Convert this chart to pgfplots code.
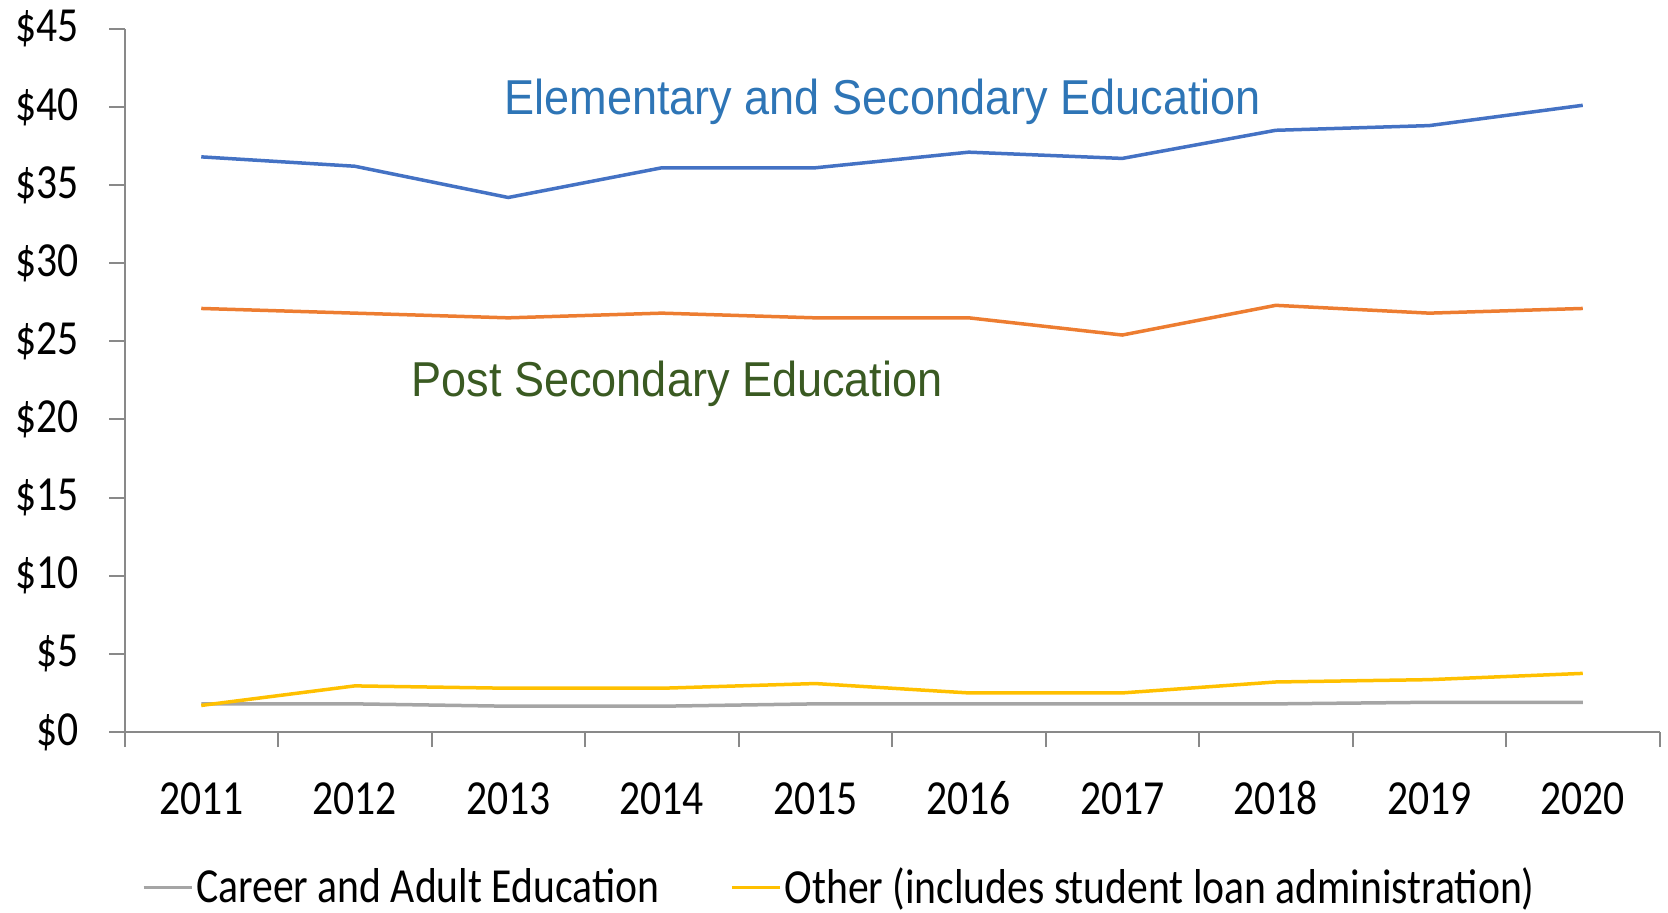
\documentclass[border=0pt]{standalone}
\usepackage{fontspec}
\setmainfont{Carlito}[FakeStretch=0.85]
\newfontfamily\arialfont{Liberation Sans}[FakeStretch=0.92]
\usepackage{pgfplots}
\pgfplotsset{compat=1.18}
\definecolor{cblue}{HTML}{4472C4}
\definecolor{corange}{HTML}{ED7D31}
\definecolor{cgray}{HTML}{A5A5A5}
\definecolor{cyellow}{HTML}{FFC000}
\definecolor{axisgray}{HTML}{898989}
\definecolor{textblue}{HTML}{2E75B6}
\definecolor{textgreen}{HTML}{3A5A22}
\begin{document}
\begin{tikzpicture}
\useasboundingbox (-62.25bp,-90.5bp) rectangle (771.75bp,366bp);
\begin{axis}[
  scale only axis, width=767.5bp, height=351.65bp,
  xmin=0.5, xmax=10.5, ymin=0, ymax=45,
  axis x line=bottom, axis y line=left,
  axis line style={-, draw=axisgray, line width=1bp},
  xtick={1,2,3,4,5,6,7,8,9,10},
  xticklabels={2011,2012,2013,2014,2015,2016,2017,2018,2019,2020},
  minor xtick={0.5,1.5,2.5,3.5,4.5,5.5,6.5,7.5,8.5,9.5,10.5},
  ytick={0,5,10,15,20,25,30,35,40,45},
  yticklabel={\$\pgfmathprintnumber{\tick}},
  tick align=outside, major tick length=7.5bp, minor tick length=7.5bp,
  every tick/.style={draw=axisgray, line width=1bp},
  major x tick style={draw=none},
  tick label style={font=\fontsize{24.5bp}{28bp}\selectfont},
  xticklabel style={text height=16bp, text depth=0bp, yshift=-14bp},
  yticklabel style={xshift=-12bp},
  /pgf/number format/assume math mode=true,
  legend style={at={(0.466,-0.221)}, anchor=center, draw=none, fill=none,
    legend columns=2, font=\fontsize{24.5bp}{28bp}\selectfont,
    /tikz/every even column/.append style={column sep=34bp},
    inner sep=0pt, nodes={inner sep=1.5bp}},
  legend image code/.code={\draw[#1, line width=1.75bp] (0bp,0bp) -- (24bp,0bp);},
  clip=false,
]
\addplot[cblue, line width=1.75bp, forget plot] coordinates {
 (1,36.8) (2,36.2) (3,34.2) (4,36.1) (5,36.1) (6,37.1) (7,36.7) (8,38.5) (9,38.8) (10,40.1)};
\addplot[corange, line width=1.75bp, forget plot] coordinates {
 (1,27.1) (2,26.8) (3,26.5) (4,26.8) (5,26.5) (6,26.5) (7,25.4) (8,27.3) (9,26.8) (10,27.1)};
\addplot[cgray, line width=1.75bp] coordinates {
 (1,1.8) (2,1.8) (3,1.65) (4,1.65) (5,1.8) (6,1.8) (7,1.8) (8,1.8) (9,1.9) (10,1.9)};
\addlegendentry{Career and Adult Education}
\addplot[cyellow, line width=1.75bp] coordinates {
 (1,1.7) (2,2.95) (3,2.8) (4,2.8) (5,3.1) (6,2.5) (7,2.5) (8,3.2) (9,3.35) (10,3.75)};
\addlegendentry{Other (includes student loan administration)}
\node[font=\arialfont\fontsize{24.5bp}{28bp}\selectfont, text=textblue] at (axis cs:5.44,40.3) {Elementary and Secondary Education};
\node[font=\arialfont\fontsize{24.5bp}{28bp}\selectfont, text=textgreen] at (axis cs:4.10,22.3) {Post Secondary Education};
\end{axis}
\end{tikzpicture}
\end{document}
